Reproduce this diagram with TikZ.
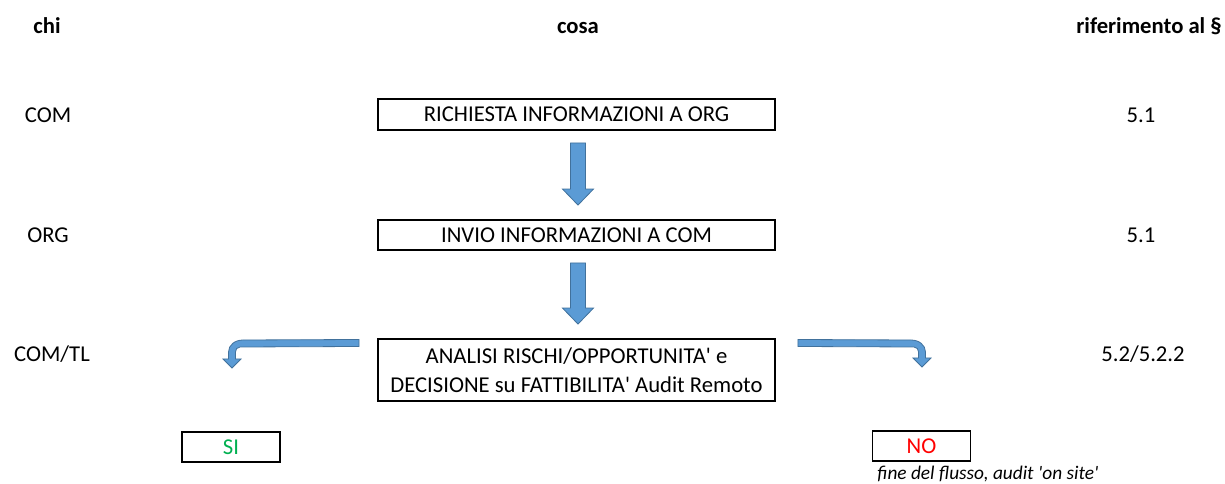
\documentclass[tikz,border=0pt]{standalone}
\usepackage{fontspec}
\setmainfont{Carlito}
\usetikzlibrary{calc}
\definecolor{arrfill}{HTML}{5B9BD5}
\definecolor{arrdraw}{HTML}{41719C}
\definecolor{sigreen}{HTML}{00B050}
\newcommand{\sq}{\textquotesingle}
\begin{document}
\begin{tikzpicture}[x=0.75pt,y=-0.75pt,
  lbl/.style={font=\fontsize{17}{20}\selectfont, inner sep=0pt, anchor=base},
  hdr/.style={font=\fontsize{17}{20}\selectfont\bfseries, inner sep=0pt, anchor=base},
  stepbox/.style={draw=black, line width=1.4pt, minimum width=397*0.75pt, inner sep=0pt,
     font=\fontsize{17}{21.75}\selectfont, align=center},
  smallbox/.style={draw=black, line width=1.4pt, minimum width=98*0.75pt, minimum height=30*0.75pt,
     inner sep=0pt, font=\fontsize{17}{20}\selectfont},
  blockarrow/.style={fill=arrfill, draw=arrdraw, line width=0.6pt, line join=miter}
]
\useasboundingbox (0,0) rectangle (1225,484);
% headers
\node[hdr] (hchi) at (47,33.5) {chi};
\node[hdr] (hcosa) at (578,33.5) {cosa};
\node[hdr, anchor=base east] (hrif) at (1222,33.5) {riferimento al §};
% who
\node[lbl] (w1) at (48,123) {COM};
\node[lbl] (w2) at (48,243) {ORG};
\node[lbl] (w3) at (52,362) {COM/TL};
% refs
\node[lbl] (r1) at (1141,123) {5.1};
\node[lbl] (r2) at (1141,243) {5.1};
\node[lbl] (r3) at (1143,362) {5.2/5.2.2};
% boxes
\node[stepbox, minimum height=31*0.75pt] (b1) at (576.5,114.5) {RICHIESTA INFORMAZIONI A ORG};
\node[stepbox, minimum height=30*0.75pt] (b2) at (576.5,235) {INVIO INFORMAZIONI A COM};
\node[stepbox, minimum height=62*0.75pt] (b3) at (576.5,370) {ANALISI RISCHI/OPPORTUNITA\sq{} e\\DECISIONE su FATTIBILITA\sq{} Audit Remoto};
\node[smallbox, text=sigreen] (si) at (231,447) {SI};
\node[smallbox, text=red] (no) at (921.5,446) {NO};
\node[font=\fontsize{14.5}{17}\selectfont\itshape, anchor=base west, inner sep=0pt] (fine) at (877,479.5) {fine del flusso, audit \sq on site\sq};
% down arrows
\foreach \a/\b in {b1/b2, b2/b3} {
  \path ($(\a.south)+(1.5,12)$) coordinate (t) ($(\b.north)+(1.5,-14)$) coordinate (h);
  \filldraw[blockarrow] ($(t)+(-7.5,0)$) -- ($(h)+(-7.5,-16)$) -- ($(h)+(-15.5,-16)$) -- (h)
     -- ($(h)+(15.5,-16)$) -- ($(h)+(7.5,-16)$) -- ($(t)+(7.5,0)$) -- cycle;
}
% left bent arrow (from b3 towards SI)
\coordinate (ls) at ($(b3.west)+(-18,-30.5)$);
\filldraw[blockarrow] (ls) -- (243,340) .. controls (235,340) and (228.5,345) .. (228.5,352)
  -- (228.5,359) -- (223,359) -- (232,368) -- (241,359) -- (235.5,359) -- (235.5,352)
  .. controls (235.5,349.5) and (237,347) .. (240,347) -- ($(ls)+(0,7)$) -- cycle;
% right bent arrow (from b3 towards NO)
\coordinate (rs) at ($(b3.east)+(22,-30.5)$);
\filldraw[blockarrow] (rs) -- (911,340) .. controls (919,340) and (925.5,345) .. (925.5,352)
  -- (925.5,358) -- (931,358) -- (922,367) -- (913,358) -- (918.5,358) -- (918.5,352)
  .. controls (918.5,349.5) and (917,347) .. (914,347) -- ($(rs)+(0,7)$) -- cycle;
\end{tikzpicture}
\end{document}
